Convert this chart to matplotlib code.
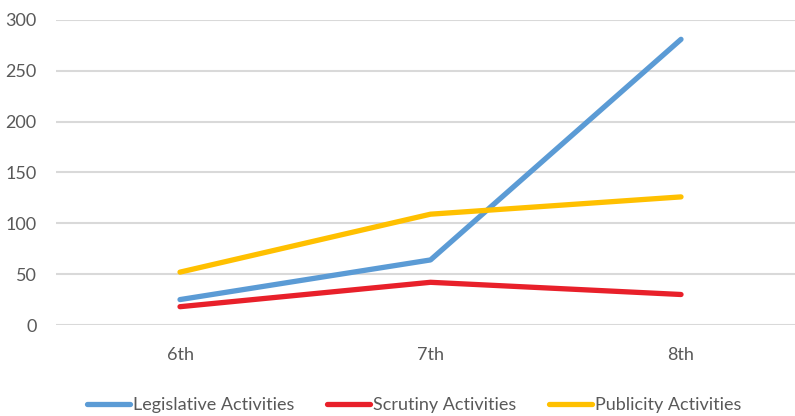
import matplotlib
matplotlib.use("Agg")
import matplotlib.pyplot as plt

sessions = ["6th", "7th", "8th"]
legislative = [25, 64, 281]
scrutiny = [18, 42, 30]
publicity = [52, 109, 126]
y_ticks = [0, 50, 100, 150, 200, 250, 300]

plt.rcParams["font.family"] = ["Lato", "DejaVu Sans"]

W, H = 795, 416
fig = plt.figure(figsize=(W / 100, H / 100), dpi=100)
ax = fig.add_axes([56 / W, (H - 325) / H, (795 - 56) / W, (325 - 20) / H])

x = range(len(sessions))
ax.plot(x, legislative, color="#5B9BD5", lw=3.8, solid_capstyle="round", label="Legislative Activities", zorder=3)
ax.plot(x, scrutiny, color="#E8202A", lw=3.8, solid_capstyle="round", label="Scrutiny Activities", zorder=3)
ax.plot(x, publicity, color="#FFC000", lw=3.8, solid_capstyle="round", label="Publicity Activities", zorder=3)

ax.set_xlim(-0.495, 2.455)
ax.set_ylim(0, 300)
ax.set_yticks(y_ticks)
ax.set_xticks(list(x))
ax.set_xticklabels(sessions)
ax.grid(axis="y", color="#D9D9D9", lw=1.5)
ax.set_axisbelow(True)
for s in ax.spines.values():
    s.set_visible(False)
ax.tick_params(length=0, colors="#595959", labelsize=13)
ax.tick_params(axis="y", pad=14)
ax.tick_params(axis="x", pad=16)
ax.set_clip_on(False)

leg = fig.legend(loc="center", bbox_to_anchor=(414 / W, 1 - 405 / H), ncol=3,
                 frameon=False, fontsize=13, handlelength=2.4, handletextpad=0.15,
                 columnspacing=1.8, labelcolor="#595959")

fig.savefig("out.png", dpi=100)
